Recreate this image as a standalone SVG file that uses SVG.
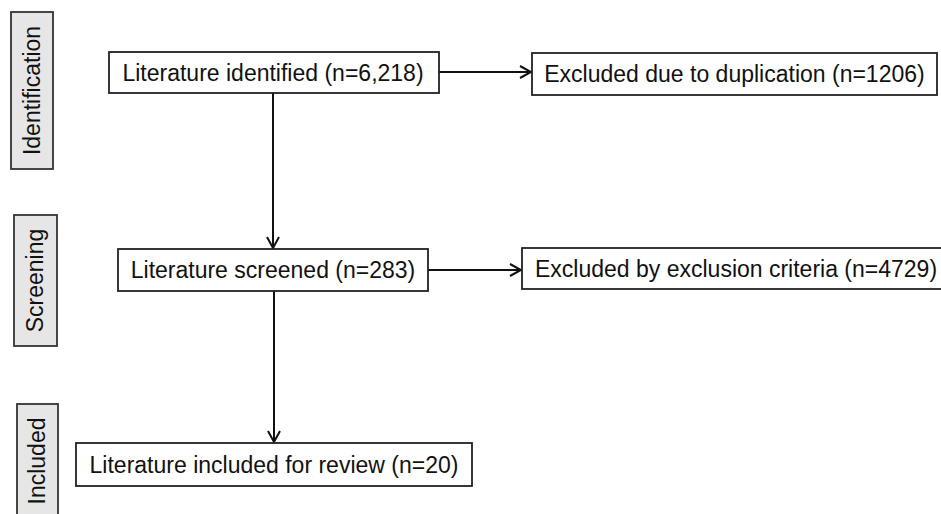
<svg xmlns="http://www.w3.org/2000/svg" width="941" height="514" viewBox="0 0 941 514">
<defs>
<style>
.box{fill:#fff;stroke:#222;stroke-width:1.8}
.stage{fill:#e6e6e6;stroke:#333;stroke-width:1.8}
text{font-family:"Liberation Sans",Arial,sans-serif;font-size:23px;fill:#111}
.c{fill:none;stroke:#111;stroke-width:2}
</style>
<marker id="ah" viewBox="0 0 14 14" refX="12" refY="7" markerWidth="14" markerHeight="14" markerUnits="userSpaceOnUse" orient="auto">
<path d="M1,1 L12,7 L1,13" fill="none" stroke="#111" stroke-width="2"/>
</marker>
</defs>
<rect width="941" height="514" fill="#fff"/>
<g id="stage-identification">
<rect class="stage" x="11" y="12" width="42" height="157"/>
<text transform="translate(40,90.5) rotate(-90)" text-anchor="middle">Identification</text>
</g>
<g id="stage-screening">
<rect class="stage" x="14" y="215" width="43" height="131"/>
<text transform="translate(43,280.5) rotate(-90)" text-anchor="middle">Screening</text>
</g>
<g id="stage-included">
<rect class="stage" x="17" y="404" width="41" height="120"/>
<text transform="translate(45,461) rotate(-90)" text-anchor="middle">Included</text>
</g>
<g id="connectors">
<line class="c" x1="439" y1="72" x2="531" y2="72" marker-end="url(#ah)"/>
<line class="c" x1="273" y1="93" x2="273" y2="248" marker-end="url(#ah)"/>
<line class="c" x1="428" y1="270" x2="521" y2="270" marker-end="url(#ah)"/>
<line class="c" x1="274" y1="291" x2="274" y2="442" marker-end="url(#ah)"/>
</g>
<g id="n-identified">
<rect class="box" x="109" y="52" width="330" height="41"/>
<text x="273" y="80.5" text-anchor="middle">Literature identified (n=6,218)</text>
</g>
<g id="n-dup">
<rect class="box" x="532" y="53" width="405" height="42"/>
<text x="734.5" y="82" text-anchor="middle">Excluded due to duplication (n=1206)</text>
</g>
<g id="n-screened">
<rect class="box" x="118" y="249" width="310" height="42"/>
<text x="273" y="278" text-anchor="middle">Literature screened (n=283)</text>
</g>
<g id="n-excl">
<rect class="box" x="522" y="248" width="420" height="41"/>
<text x="535" y="277">Excluded by exclusion criteria (n=4729)</text>
</g>
<g id="n-included">
<rect class="box" x="76" y="443" width="396" height="43"/>
<text x="274" y="473" text-anchor="middle">Literature included for review (n=20)</text>
</g>
</svg>
